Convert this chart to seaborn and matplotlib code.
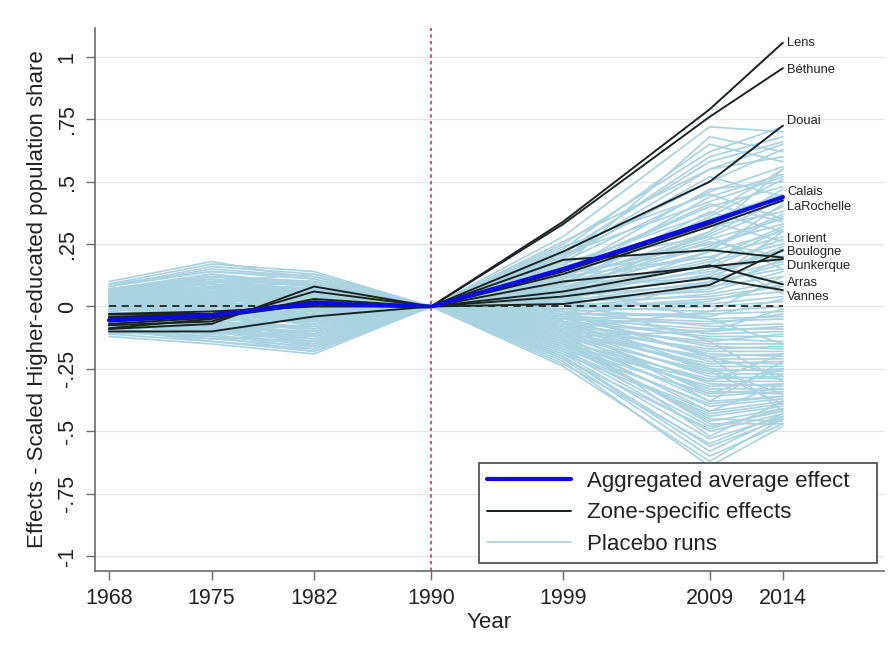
import pandas as pd
import seaborn as sns
import matplotlib.pyplot as plt
from matplotlib.lines import Line2D

# Years of the census waves, treatment year in the middle
years = [1968, 1975, 1982, 1990, 1999, 2009, 2014]
treat_year = 1990

# Zone-specific effects (black lines), one row per zone, one value per year
zones = ['Lens', 'Béthune', 'Douai', 'Calais', 'LaRochelle',
         'Lorient', 'Boulogne', 'Dunkerque', 'Arras', 'Vannes']
zone_effects = [
    [-0.030, -0.030, 0.020, 0.0, 0.340, 0.790, 1.057],
    [-0.040, -0.035, 0.015, 0.0, 0.330, 0.760, 0.955],
    [-0.075, -0.060, 0.060, 0.0, 0.220, 0.500, 0.725],
    [-0.045, -0.030, 0.020, 0.0, 0.140, 0.330, 0.442],
    [-0.060, -0.040, 0.010, 0.0, 0.130, 0.320, 0.425],
    [-0.100, -0.100, -0.040, 0.0, 0.010, 0.086, 0.226],
    [-0.090, -0.070, 0.080, 0.0, 0.187, 0.226, 0.196],
    [-0.087, -0.050, 0.030, 0.0, 0.100, 0.160, 0.190],
    [-0.030, -0.020, 0.000, 0.0, 0.060, 0.165, 0.089],
    [-0.070, -0.045, 0.010, 0.0, 0.040, 0.114, 0.066],
]
# where the zone names sit next to the 2014 end points
label_y = [1.057, 0.946, 0.745, 0.457, 0.397, 0.271, 0.219, 0.162, 0.094, 0.038]

# Aggregated average effect (thick blue line)
avg_effect = [-0.055, -0.035, 0.012, 0.0, 0.150, 0.340, 0.438]

# Placebo runs (light blue)
placebo_runs = [
    [0.09, 0.17, 0.14, 0.0, 0.28, 0.72, 0.70],
    [0.08, 0.15, 0.12, 0.0, 0.25, 0.62, 0.72],
    [0.06, 0.12, 0.10, 0.0, 0.22, 0.58, 0.66],
    [0.05, 0.10, 0.13, 0.0, 0.26, 0.55, 0.60],
    [0.10, 0.18, 0.11, 0.0, 0.20, 0.50, 0.63],
    [0.04, 0.08, 0.07, 0.0, 0.18, 0.46, 0.56],
    [0.03, 0.05, 0.09, 0.0, 0.21, 0.42, 0.52],
    [0.07, 0.11, 0.06, 0.0, 0.15, 0.40, 0.48],
    [0.02, 0.04, 0.05, 0.0, 0.17, 0.37, 0.55],
    [0.06, 0.13, 0.08, 0.0, 0.12, 0.35, 0.45],
    [-0.02, 0.03, 0.04, 0.0, 0.14, 0.33, 0.42],
    [0.01, 0.07, 0.03, 0.0, 0.10, 0.30, 0.47],
    [0.05, 0.09, 0.02, 0.0, 0.16, 0.32, 0.38],
    [-0.03, -0.02, 0.06, 0.0, 0.11, 0.28, 0.40],
    [0.00, 0.02, -0.02, 0.0, 0.09, 0.27, 0.35],
    [0.04, 0.06, 0.01, 0.0, 0.13, 0.25, 0.33],
    [-0.05, -0.04, 0.03, 0.0, 0.08, 0.24, 0.37],
    [0.03, 0.00, -0.04, 0.0, 0.07, 0.22, 0.30],
    [-0.01, 0.05, 0.05, 0.0, 0.10, 0.20, 0.28],
    [-0.06, -0.07, 0.00, 0.0, 0.06, 0.19, 0.32],
    [0.02, 0.01, -0.06, 0.0, 0.05, 0.18, 0.25],
    [-0.04, 0.02, 0.04, 0.0, 0.08, 0.16, 0.27],
    [0.06, 0.04, -0.01, 0.0, 0.04, 0.15, 0.22],
    [-0.08, -0.05, -0.03, 0.0, 0.06, 0.14, 0.20],
    [0.01, -0.03, 0.02, 0.0, 0.03, 0.13, 0.24],
    [-0.02, 0.06, 0.07, 0.0, 0.05, 0.11, 0.18],
    [0.03, -0.01, -0.05, 0.0, 0.02, 0.10, 0.15],
    [-0.07, -0.09, -0.08, 0.0, 0.04, 0.09, 0.17],
    [0.05, 0.03, 0.01, 0.0, 0.01, 0.08, 0.12],
    [-0.03, -0.06, 0.03, 0.0, 0.03, 0.06, 0.14],
    [0.00, 0.04, -0.02, 0.0, 0.00, 0.05, 0.10],
    [-0.09, -0.11, -0.10, 0.0, 0.02, 0.04, 0.08],
    [0.02, -0.02, -0.07, 0.0, -0.01, 0.03, 0.06],
    [-0.05, 0.01, 0.05, 0.0, 0.01, 0.01, 0.04],
    [0.04, 0.07, 0.02, 0.0, -0.02, 0.00, 0.02],
    [-0.01, -0.04, -0.09, 0.0, 0.00, -0.02, 0.00],
    [0.07, 0.10, 0.06, 0.0, -0.03, -0.03, -0.02],
    [-0.06, -0.08, -0.04, 0.0, -0.01, -0.05, -0.04],
    [0.01, 0.02, 0.08, 0.0, -0.04, -0.06, -0.05],
    [-0.04, -0.10, -0.12, 0.0, -0.02, -0.08, -0.07],
    [0.03, 0.05, 0.00, 0.0, -0.05, -0.09, -0.09],
    [-0.08, -0.03, -0.06, 0.0, -0.03, -0.11, -0.10],
    [0.05, 0.08, 0.04, 0.0, -0.06, -0.12, -0.12],
    [-0.02, -0.12, -0.14, 0.0, -0.04, -0.13, -0.14],
    [0.00, 0.00, -0.03, 0.0, -0.07, -0.15, -0.15],
    [-0.10, -0.13, -0.11, 0.0, -0.05, -0.16, -0.17],
    [0.02, 0.03, 0.03, 0.0, -0.08, -0.18, -0.18],
    [-0.07, -0.06, -0.15, 0.0, -0.06, -0.19, -0.20],
    [0.06, 0.09, 0.05, 0.0, -0.09, -0.21, -0.21],
    [-0.03, -0.01, -0.08, 0.0, -0.07, -0.22, -0.23],
    [0.04, 0.11, 0.09, 0.0, -0.10, -0.24, -0.24],
    [-0.11, -0.14, -0.17, 0.0, -0.08, -0.25, -0.26],
    [0.01, -0.05, -0.01, 0.0, -0.11, -0.27, -0.27],
    [-0.05, -0.08, -0.13, 0.0, -0.09, -0.28, -0.29],
    [0.08, 0.14, 0.12, 0.0, -0.12, -0.30, -0.30],
    [-0.01, 0.01, -0.05, 0.0, -0.10, -0.31, -0.32],
    [-0.09, -0.12, -0.18, 0.0, -0.13, -0.33, -0.33],
    [0.03, 0.06, 0.02, 0.0, -0.11, -0.34, -0.35],
    [-0.04, -0.04, -0.10, 0.0, -0.14, -0.36, -0.34],
    [0.05, 0.02, -0.02, 0.0, -0.12, -0.38, -0.36],
    [-0.06, -0.10, -0.16, 0.0, -0.15, -0.40, -0.37],
    [0.00, 0.03, 0.01, 0.0, -0.13, -0.42, -0.38],
    [-0.08, -0.07, -0.12, 0.0, -0.16, -0.44, -0.40],
    [0.02, 0.08, 0.07, 0.0, -0.14, -0.46, -0.41],
    [-0.12, -0.15, -0.19, 0.0, -0.17, -0.48, -0.42],
    [0.04, 0.00, -0.04, 0.0, -0.18, -0.50, -0.43],
    [-0.03, -0.09, -0.14, 0.0, -0.19, -0.53, -0.44],
    [0.07, 0.12, 0.10, 0.0, -0.20, -0.56, -0.45],
    [-0.07, -0.11, -0.07, 0.0, -0.21, -0.60, -0.47],
    [-0.10, -0.06, -0.16, 0.0, -0.22, -0.64, -0.48],
    [0.01, 0.04, 0.00, 0.0, -0.15, -0.45, -0.46],
    [0.03, 0.05, 0.06, 0.0, 0.19, 0.52, 0.44],
    [-0.02, 0.02, 0.03, 0.0, 0.14, 0.47, 0.50],
    [0.05, 0.10, 0.09, 0.0, 0.23, 0.65, 0.58],
    [-0.01, 0.01, -0.01, 0.0, 0.07, 0.26, 0.20],
    [0.02, -0.03, -0.05, 0.0, -0.03, -0.20, -0.28],
    [-0.04, -0.02, 0.02, 0.0, -0.08, -0.35, -0.25],
    [0.06, 0.07, 0.04, 0.0, 0.09, 0.38, 0.30],
    [-0.05, -0.07, -0.09, 0.0, 0.12, 0.34, 0.26],
    [0.00, -0.01, -0.03, 0.0, -0.06, -0.26, -0.39],
    [0.02, 0.06, 0.03, 0.0, 0.05, 0.30, 0.55],
    [-0.03, 0.00, 0.04, 0.0, 0.18, 0.28, 0.15],
    [0.04, 0.09, 0.07, 0.0, 0.24, 0.45, 0.35],
    [-0.06, -0.04, -0.02, 0.0, -0.05, 0.10, 0.30],
    [0.01, 0.03, 0.00, 0.0, 0.12, 0.20, 0.05],
    [0.07, 0.13, 0.09, 0.0, 0.02, 0.22, 0.41],
    [-0.02, -0.05, -0.06, 0.0, -0.09, -0.02, 0.12],
    [0.03, 0.02, 0.05, 0.0, 0.08, -0.05, -0.15],
    [-0.08, -0.10, -0.13, 0.0, -0.12, -0.10, -0.01],
    [0.05, 0.04, 0.03, 0.0, 0.03, -0.14, -0.30],
    [-0.04, -0.06, -0.09, 0.0, -0.16, -0.30, -0.19],
    [0.00, 0.01, 0.02, 0.0, -0.02, -0.20, -0.42],
    [0.06, 0.11, 0.08, 0.0, -0.06, -0.38, -0.22],
    [-0.09, -0.08, -0.11, 0.0, -0.18, -0.42, -0.31],
    [0.02, 0.05, 0.01, 0.0, -0.10, -0.52, -0.38],
    [-0.05, -0.03, -0.07, 0.0, -0.20, -0.58, -0.44],
    [0.04, 0.06, 0.04, 0.0, -0.13, -0.47, -0.47],
    [-0.01, -0.02, -0.04, 0.0, -0.04, -0.25, -0.35],
    [0.08, 0.16, 0.13, 0.0, 0.21, 0.60, 0.68],
    [0.03, 0.08, 0.06, 0.0, 0.16, 0.68, 0.62],
    [-0.02, 0.04, 0.02, 0.0, 0.20, 0.55, 0.65],
    [0.05, 0.07, 0.10, 0.0, 0.11, 0.44, 0.53],
    [-0.04, 0.00, 0.01, 0.0, 0.09, 0.36, 0.51],
    [0.01, 0.03, 0.05, 0.0, 0.15, 0.41, 0.34],
    [-0.07, -0.04, -0.05, 0.0, 0.06, 0.29, 0.43],
    [0.09, 0.14, 0.11, 0.0, 0.13, 0.23, 0.36],
    [-0.03, -0.08, -0.10, 0.0, 0.04, 0.17, 0.31],
    [0.02, 0.00, -0.03, 0.0, 0.07, 0.12, 0.23],
    [-0.06, -0.05, -0.01, 0.0, 0.01, 0.07, 0.19],
    [0.04, 0.05, 0.00, 0.0, -0.01, 0.02, 0.09],
    [-0.10, -0.12, -0.15, 0.0, -0.03, -0.04, 0.03],
    [0.00, -0.02, 0.04, 0.0, -0.05, -0.07, -0.03],
    [0.06, 0.10, 0.07, 0.0, -0.07, -0.10, -0.08],
    [-0.05, -0.09, -0.12, 0.0, -0.08, -0.14, -0.11],
    [0.03, 0.04, 0.02, 0.0, -0.09, -0.17, -0.16],
    [-0.08, -0.13, -0.16, 0.0, -0.11, -0.20, -0.19],
    [0.01, 0.07, 0.05, 0.0, -0.10, -0.23, -0.22],
    [-0.02, -0.07, -0.11, 0.0, -0.12, -0.26, -0.25],
    [0.05, 0.12, 0.08, 0.0, -0.14, -0.29, -0.28],
    [-0.11, -0.10, -0.14, 0.0, -0.15, -0.32, -0.31],
    [0.02, 0.01, -0.02, 0.0, -0.16, -0.35, -0.33],
    [-0.06, -0.11, -0.17, 0.0, -0.17, -0.39, -0.36],
    [0.07, 0.09, 0.06, 0.0, -0.19, -0.43, -0.39],
    [-0.03, -0.06, -0.08, 0.0, -0.21, -0.49, -0.41],
    [0.00, 0.02, -0.06, 0.0, -0.23, -0.55, -0.43],
    [-0.09, -0.14, -0.18, 0.0, -0.24, -0.62, -0.45],
]

y_ticks = [-1, -0.75, -0.5, -0.25, 0, 0.25, 0.5, 0.75, 1]
y_ticklabels = ['-1', '-.75', '-.5', '-.25', '0', '.25', '.5', '.75', '1']

# long format tables for seaborn
df_placebo = pd.DataFrame(
    [(i, yr, v) for i, run in enumerate(placebo_runs) for yr, v in zip(years, run)],
    columns=['run', 'year', 'effect'])
df_zones = pd.DataFrame(
    [(z, yr, v) for z, run in zip(zones, zone_effects) for yr, v in zip(years, run)],
    columns=['zone', 'year', 'effect'])
df_avg = pd.DataFrame({'year': years, 'effect': avg_effect})

sns.set_theme(style='white')
plt.rcParams['font.family'] = ['Liberation Sans', 'DejaVu Sans']

placebo_color = '#aad3e2'
zone_color = '#1b2424'
avg_color = '#0a0ae6'
axis_grey = '#6a6a6a'
text_color = '#222222'

fig = plt.figure(figsize=(8.94, 6.6), dpi=100)
ax = fig.add_axes([0.1063, 0.1348, 0.8825, 0.8228])

# light horizontal grid at the y ticks
for yt in y_ticks:
    ax.axhline(yt, color='#e6e6e6', lw=0.9, zorder=0)

sns.lineplot(data=df_placebo, x='year', y='effect', units='run', estimator=None,
             color=placebo_color, lw=1.25, ax=ax, legend=False, zorder=1)

ax.hlines(0, years[0], years[-1], colors='#222222', linestyles=(0, (4, 3)),
          lw=1.3, zorder=2)

sns.lineplot(data=df_zones, x='year', y='effect', units='zone', estimator=None,
             color=zone_color, lw=1.4, ax=ax, legend=False, zorder=3)

sns.lineplot(data=df_avg, x='year', y='effect', color=avg_color, lw=3.0,
             ax=ax, legend=False, zorder=4)

ax.axvline(treat_year, color='#cc3366', lw=1.2, linestyle=(0, (2, 2)), zorder=5)

# zone names at the right end of each line
for name, yl in zip(zones, label_y):
    ax.annotate(name, xy=(years[-1], yl), xytext=(3, 0), textcoords='offset points',
                ha='left', va='center', fontsize=9.3, color=text_color)

ax.set_xlim(1967.05, 2020.9)
ax.set_ylim(-1.06, 1.116)
ax.set_xticks(years)
ax.set_yticks(y_ticks)
ax.set_yticklabels(y_ticklabels)
ax.tick_params(axis='both', which='major', direction='out', length=6.5, width=1.0,
               color=axis_grey, labelsize=15.5, labelcolor=text_color, pad=6,
               bottom=True, left=True)
ax.tick_params(axis='y', labelrotation=90)
for lbl in ax.get_yticklabels():
    lbl.set_va('center')

for side in ['top', 'right']:
    ax.spines[side].set_visible(False)
for side in ['left', 'bottom']:
    ax.spines[side].set_color(axis_grey)
    ax.spines[side].set_linewidth(1.2)

ax.set_xlabel('Year', fontsize=16, color=text_color, labelpad=2)
ax.set_ylabel('Effects - Scaled Higher-educated population share', fontsize=16,
              color=text_color, labelpad=6)

handles = [
    Line2D([0], [0], color=avg_color, lw=3.0),
    Line2D([0], [0], color=zone_color, lw=1.4),
    Line2D([0], [0], color=placebo_color, lw=1.25),
]
labels = ['Aggregated average effect', 'Zone-specific effects', 'Placebo runs']
leg = ax.legend(handles, labels, loc='lower left',
                bbox_to_anchor=(0.4867, 0.0147, 0.5044, 0.2), mode='expand',
                borderaxespad=0, fontsize=16, frameon=True, fancybox=False,
                framealpha=1, edgecolor='#444444', handlelength=3.8,
                handletextpad=0.7, labelspacing=0.48, borderpad=0.36)
leg.get_frame().set_linewidth(1.2)
for t in leg.get_texts():
    t.set_color(text_color)

fig.savefig('out.png', dpi=100, facecolor='white')
